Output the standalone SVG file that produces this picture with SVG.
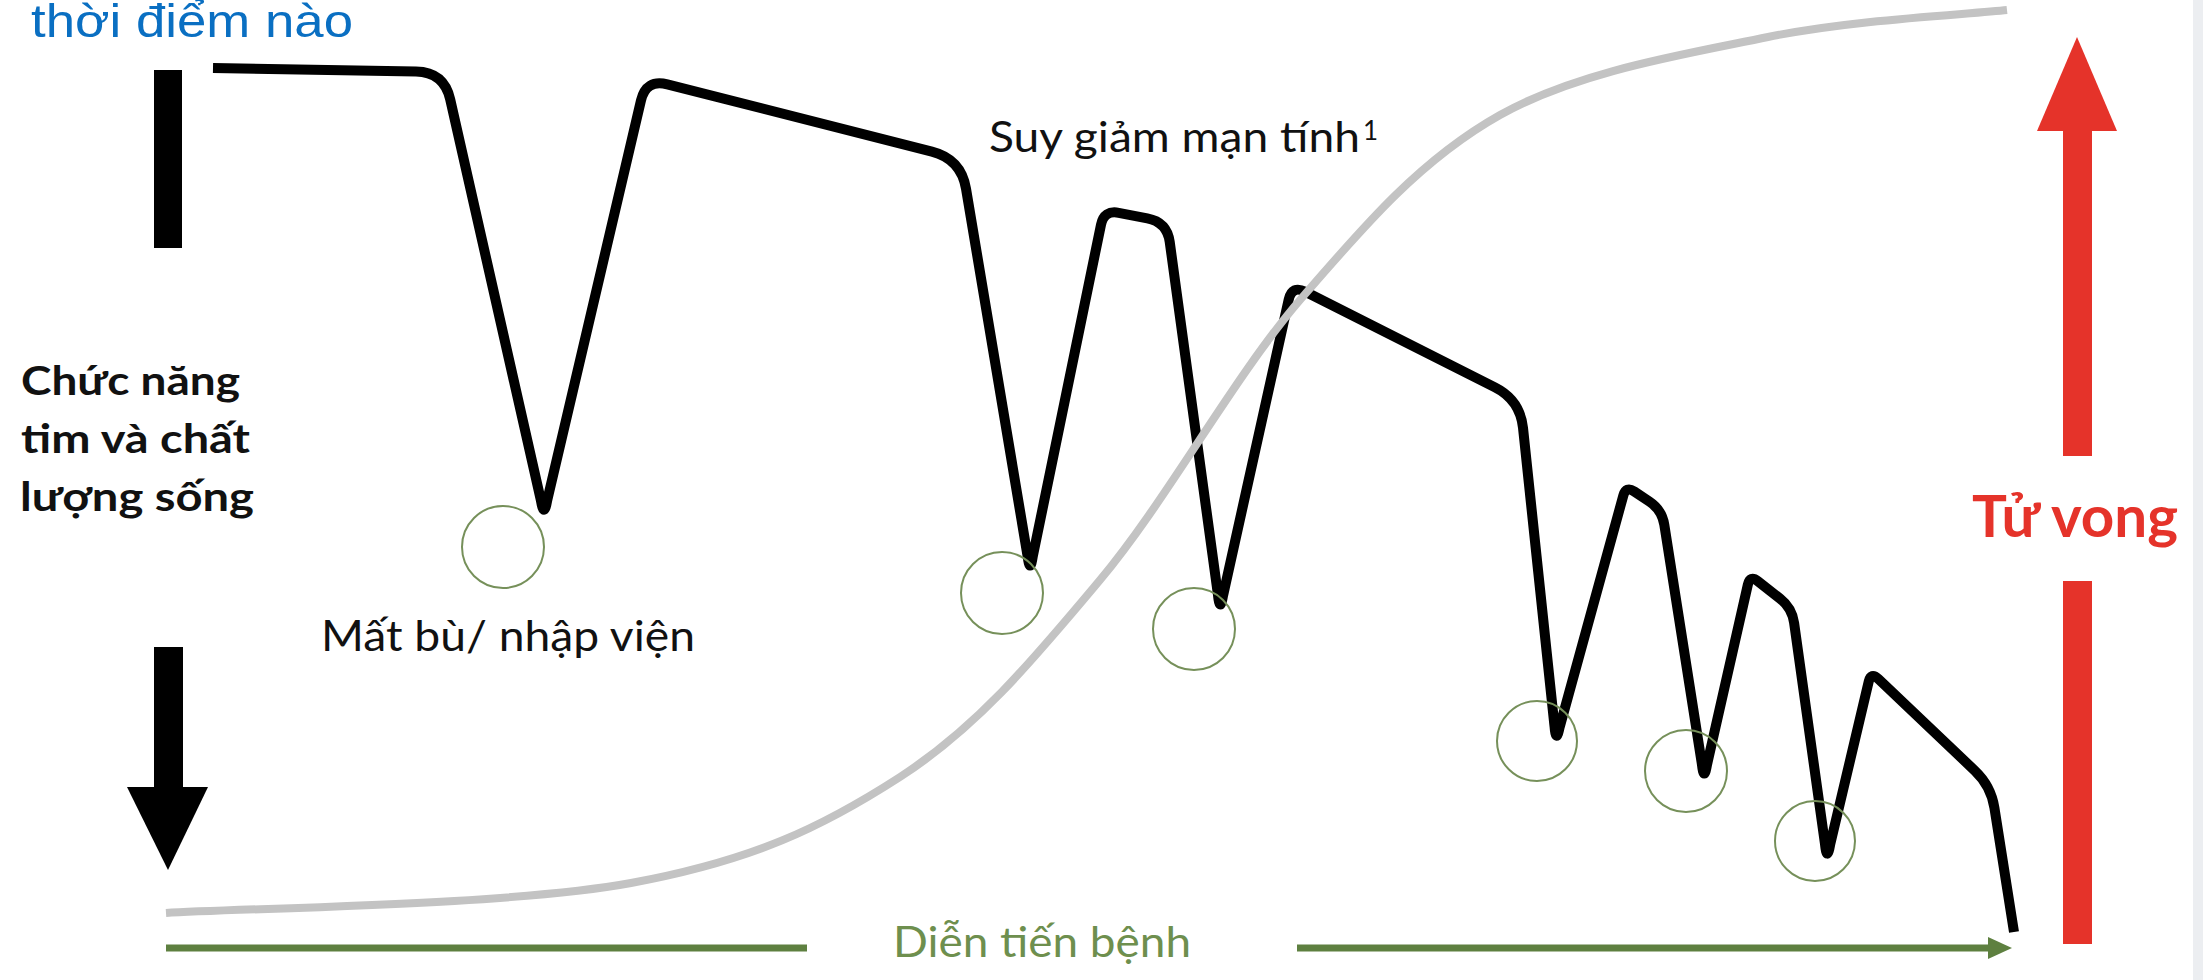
<svg xmlns="http://www.w3.org/2000/svg" width="2203" height="980" viewBox="0 0 2203 980">
  <style>
    .lbl { font-family: Lato, "Liberation Sans", sans-serif; fill: #111; }
    .bold { font-weight: 700; }
    .ring { fill: none; stroke: #76905a; stroke-width: 2; }
    .green { stroke: #5e8040; stroke-width: 7; fill: none; }
    .red { fill: #e5332a; }
  </style>
  <rect x="0" y="0" width="2203" height="980" fill="#ffffff"/>
  <rect x="2193" y="0" width="10" height="980" fill="#eceef1"/>

  <g id="title">
    <text x="31" y="37" font-family="'Liberation Sans', Arial, sans-serif" font-size="47" fill="#0a6fc2" textLength="322" lengthAdjust="spacingAndGlyphs">thời điểm nào</text>
  </g>

  <g id="y-axis">
    <rect x="154" y="70" width="28" height="178" fill="#000"/>
    <rect x="154" y="647" width="29" height="141" fill="#000"/>
    <polygon points="127,787 208,787 168,870" fill="#000"/>
    <text class="lbl bold" font-size="40"><tspan x="21" y="395" textLength="219" lengthAdjust="spacingAndGlyphs">Chức năng</tspan><tspan x="21" y="453" textLength="229" lengthAdjust="spacingAndGlyphs">tim và chất</tspan><tspan x="20" y="511" textLength="234" lengthAdjust="spacingAndGlyphs">lượng sống</tspan></text>
  </g>

  <g id="connectors">
    <path id="function-curve" fill="none" stroke="#000" stroke-width="10" stroke-linejoin="round" stroke-linecap="butt"
      d="M213,68 L416,71.5 Q444,72 450.2,99.3 L540.9,500.4 Q544,519 547.2,500.4 L641,100.4 Q646,79 667.3,84.4 L931.9,151.6 Q961,159 966,188.6 L1027.6,556.1 Q1030,575 1032.8,556.3 L1101,224.7 Q1104,210 1118.7,212.8 L1147.3,218.3 Q1167,222 1169.7,241.8 L1218,595.1 Q1220,614 1223.1,595.3 L1288.7,299.6 Q1292,285 1305.4,291.8 L1495,387.4 Q1520,400 1523,427.8 L1554.5,726.1 Q1556,745 1559.8,726.6 L1623.3,495.6 Q1626,486 1634.3,491.5 L1649.5,501.7 Q1662,510 1664.3,524.8 L1701.9,764.1 Q1704,783 1707.1,764.3 L1747.8,584.8 Q1750,575 1757.9,581.2 L1780.2,598.7 Q1792,608 1794.1,622.9 L1825,844.1 Q1827,863 1830.2,844.4 L1868.7,681.7 Q1871,672 1878.3,678.9 L1975,770.8 Q1991,786 1994.4,807.7 L2014,932"/>
    <path id="risk-curve" fill="none" stroke="#c3c3c3" stroke-width="8" stroke-linecap="butt"
      d="M166,913 C243.5,908 508.7,905.7 631,883 C753.3,860.3 821.8,827.5 900,777 C978.2,726.5 1033.3,659.5 1100,580 C1166.7,500.5 1233.3,377.5 1300,300 C1366.7,222.5 1422,158.8 1500,115 C1578,71.2 1683.5,54.5 1768,37 C1852.5,19.5 1967.2,14.5 2007,10"/>
    <line id="progress-left" class="green" x1="166" y1="948" x2="807" y2="948"/>
    <line id="progress-right" class="green" x1="1297" y1="948" x2="1992" y2="948"/>
    <polygon points="1988,937 2012,948 1988,959" fill="#5e8040"/>
  </g>

  <g id="events">
    <circle class="ring" cx="503" cy="547" r="41"/>
    <circle class="ring" cx="1002" cy="593" r="41"/>
    <circle class="ring" cx="1194" cy="629" r="41"/>
    <circle class="ring" cx="1537" cy="741" r="40"/>
    <circle class="ring" cx="1686" cy="771" r="41"/>
    <circle class="ring" cx="1815" cy="841" r="40"/>
  </g>

  <g id="labels">
    <text class="lbl" x="321" y="651" font-size="42" textLength="374" lengthAdjust="spacingAndGlyphs">Mất bù/ nhập viện</text>
    <text class="lbl" x="989" y="152" font-size="42" textLength="371" lengthAdjust="spacingAndGlyphs">Suy giảm mạn tính</text>
    <text class="lbl" x="1363" y="140" font-size="26">1</text>
    <text class="lbl" x="893" y="957" font-size="42" style="fill:#6e8f4e" textLength="298" lengthAdjust="spacingAndGlyphs">Diễn tiến bệnh</text>
  </g>

  <g id="death">
    <polygon class="red" points="2077,37 2117,131 2037,131"/>
    <rect class="red" x="2063" y="130" width="29" height="326"/>
    <rect class="red" x="2063" y="581" width="29" height="363"/>
    <text class="lbl bold" x="1972" y="537" font-size="58" style="fill:#e5332a" textLength="206" lengthAdjust="spacingAndGlyphs">Tử vong</text>
  </g>
</svg>
